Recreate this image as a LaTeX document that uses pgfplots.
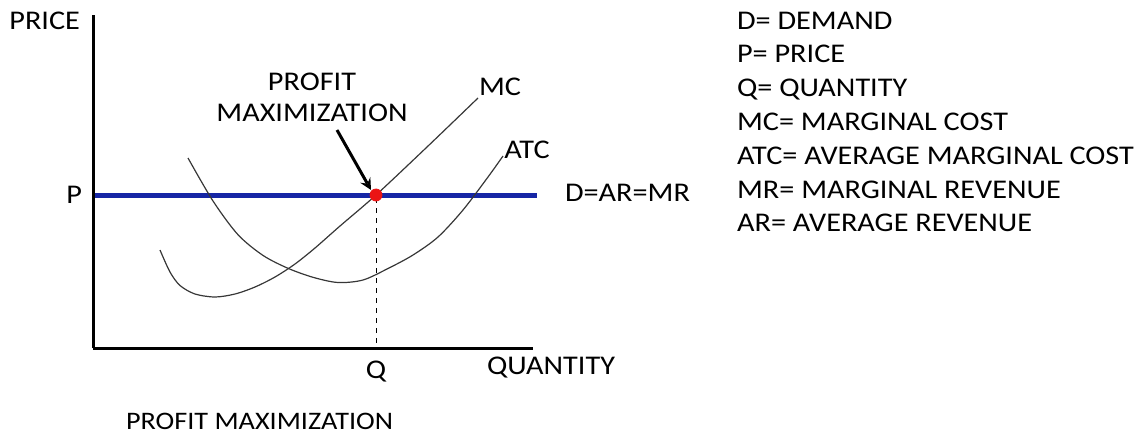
\documentclass[border=0pt]{standalone}
\usepackage{pgfplots}
\pgfplotsset{compat=1.18}
\usepackage{fontspec}
\setmainfont{Carlito}[FakeStretch=1.12]
\definecolor{demandblue}{RGB}{22,38,165}
\definecolor{dotred}{RGB}{235,20,20}
\definecolor{curvegray}{RGB}{55,55,55}
\begin{document}
\begin{tikzpicture}[font=\fontsize{13.5}{16}\selectfont]
\useasboundingbox (0,0) rectangle (571.5pt,217.5pt);
\begin{axis}[
    at={(46.5pt,43.5pt)}, anchor=south west,
    x=0.5pt, y=0.5pt,
    xmin=0, xmax=440, ymin=0, ymax=333,
    axis lines=left,
    axis line style={line width=1.5pt, -},
    clip=false,
    xtick={283}, xticklabels={Q},
    ytick={153}, yticklabels={P},
    major tick length=0pt,
    xticklabel style={yshift=-3pt},
    yticklabel style={xshift=-2pt},
]
% demand line D=AR=MR
\addplot[demandblue, line width=2.5pt] coordinates {(2,153) (444,153)};
% marginal cost
\addplot[curvegray, line width=0.6pt, smooth] coordinates {
    (67,98) (77,76) (87,62.5) (102,54) (122,51) (142,54) (162,61)
    (182,71) (202,84) (222,100) (247,122) (283,153) (334,201) (385,250)
};
% average total cost
\addplot[curvegray, line width=0.6pt, smooth] coordinates {
    (95,190) (120,147) (145,113.3) (170,92.6) (195,79.7) (220,70.7)
    (245,65.5) (270,68) (295,79.5) (320,93) (345,111) (370,138)
    (395,171) (410,192)
};
% Q drop line
\addplot[black, line width=0.5pt, dash pattern=on 2.5pt off 2.5pt] coordinates {(283,150) (283,0)};
% profit-maximizing point
\addplot[only marks, mark=*, mark size=3pt, color=dotred] coordinates {(283,153)};

\draw[-stealth, line width=1.5pt] (axis cs:244,218) -- (axis cs:278,158);
\node at (axis cs:219,266) {PROFIT};
\node at (axis cs:219,235) {MAXIMIZATION};
\node at (axis cs:407,261) {MC};
\node at (axis cs:434,198) {ATC};
\node[anchor=west] at (axis cs:465,155) {D=AR=MR};
\node[anchor=east] at (axis cs:-6,327) {PRICE};
\node[anchor=west] at (axis cs:387,-20) {QUANTITY};
\node[anchor=base west, font=\fontsize{12.6}{15}\selectfont] at (axis cs:26,-81) {PROFIT MAXIMIZATION};

\node[anchor=base west] at (axis cs:637,319) {D= DEMAND};
\node[anchor=base west] at (axis cs:637,285.5) {P= PRICE};
\node[anchor=base west] at (axis cs:637,252) {Q= QUANTITY};
\node[anchor=base west] at (axis cs:637,218) {MC= MARGINAL COST};
\node[anchor=base west] at (axis cs:637,184) {ATC= AVERAGE MARGINAL COST};
\node[anchor=base west] at (axis cs:637,150) {MR= MARGINAL REVENUE};
\node[anchor=base west] at (axis cs:637,117) {AR= AVERAGE REVENUE};
\end{axis}
\end{tikzpicture}
\end{document}
